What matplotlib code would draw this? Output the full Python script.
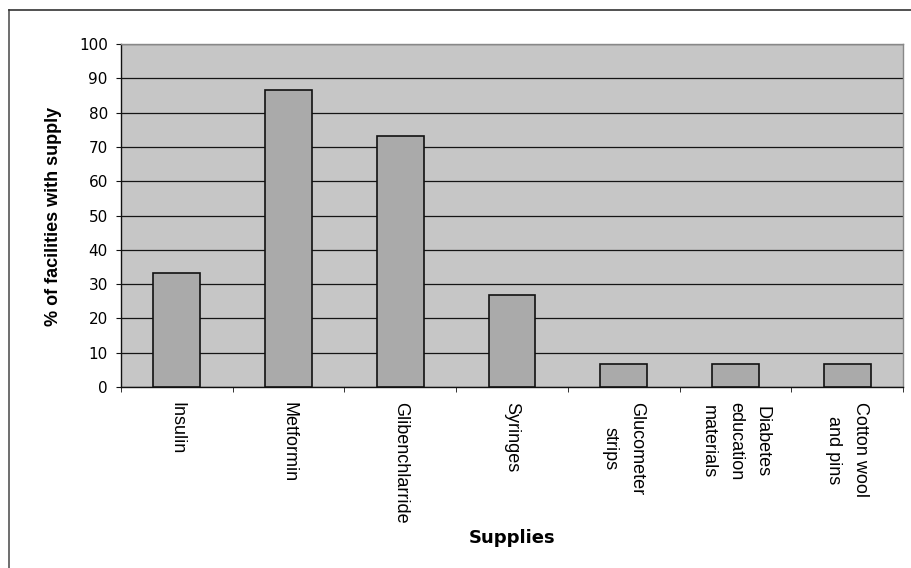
import matplotlib
matplotlib.use("Agg")
import matplotlib.pyplot as plt
from matplotlib.lines import Line2D
import numpy as np

plt.rcParams['font.family'] = ['Liberation Sans', 'DejaVu Sans']

categories = ["Insulin", "Metformin", "Glibenchlarride", "Syringes",
              "Glucometer\nstrips", "Diabetes\neducation\nmaterials", "Cotton wool\nand pins"]
values = [33.3, 86.7, 73.3, 26.7, 6.7, 6.7, 6.7]
yticks = [0, 10, 20, 30, 40, 50, 60, 70, 80, 90, 100]

fig = plt.figure(figsize=(9.11, 5.68), dpi=100)
ax = fig.add_axes([121/911, 1-387/568, 782/911, 343/568])
ax.set_facecolor('#c6c6c6')

x = np.arange(len(categories))
ax.bar(x, values, width=0.42, color='#aaaaaa', edgecolor='#111111', linewidth=1.2, zorder=3)

ax.set_xlim(-0.5, len(categories) - 0.5)
ax.set_ylim(0, 100)
ax.set_yticks(yticks)
ax.set_yticklabels([str(v) for v in yticks], fontsize=11, family='DejaVu Sans')
ax.yaxis.grid(True, color='#151515', linewidth=0.9, zorder=1)
ax.set_axisbelow(True)

ax.set_xticks(x)
ax.set_xticklabels(categories, rotation=-90, fontsize=13, ha='center', va='top',
                   multialignment='center', linespacing=1.75)
ax.set_xticks(np.arange(-0.5, len(categories) - 0.5 + 0.01, 1), minor=True)
ax.tick_params(axis='x', which='major', length=0, pad=11)
ax.tick_params(axis='x', which='minor', length=3.5, direction='out', color='#111111')
ax.tick_params(axis='y', length=3.5, direction='out', color='#111111', pad=6)

for s in ['top', 'right']:
    ax.spines[s].set_color('#888888')
    ax.spines[s].set_linewidth(1.0)
for s in ['left', 'bottom']:
    ax.spines[s].set_color('#111111')
    ax.spines[s].set_linewidth(1.0)

fig.text(54/911, 1 - 216/568, '% of facilities with supply', fontsize=13, fontweight='bold',
         rotation=90, ha='center', va='center')
fig.text(512/911, 1 - 538/568, 'Supplies', fontsize=13, fontweight='bold',
         family='DejaVu Sans', ha='center', va='center')

# outer frame (partially visible)
fig.add_artist(Line2D([9/911, 9/911], [0, 1 - 10/568], transform=fig.transFigure,
                      color='#555555', linewidth=1.2))
fig.add_artist(Line2D([9/911, 1], [1 - 10/568, 1 - 10/568], transform=fig.transFigure,
                      color='#333333', linewidth=1.2))

fig.savefig('out.png', dpi=100)
